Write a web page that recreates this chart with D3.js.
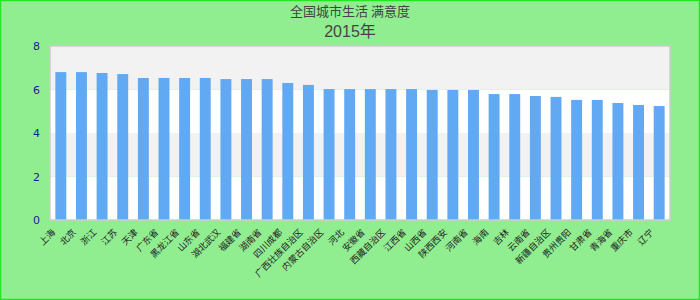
<!DOCTYPE html>
<html>
<head>
<meta charset="utf-8">
<script src="https://cdn.jsdelivr.net/npm/d3@7"></script>
<style>
  body { margin: 0; background: #fff; }
  svg { display: block; }
</style>
</head>
<body>
<div id="chart"></div>
<script>
var titleText = '全国城市生活 满意度';
var subTitle = '2015年';

var names = ['上海','北京','浙江','江苏','天津','广东省','黑龙江省','山东省','湖北武汉','福建省',
  '湖南省','四川成都','广西壮族自治区','内蒙古自治区','河北','安徽省','西藏自治区','江西省','山西省','陕西西安',
  '河南省','海南','吉林','云南省','新疆自治区','贵州贵阳','甘肃省','青海省','重庆市','辽宁'];

var values = [6.80, 6.80, 6.76, 6.71, 6.53, 6.53, 6.53, 6.53, 6.48, 6.48,
  6.48, 6.30, 6.21, 6.02, 6.02, 6.02, 6.02, 6.02, 5.98, 5.98,
  5.98, 5.79, 5.79, 5.70, 5.66, 5.52, 5.52, 5.38, 5.29, 5.24];

var yTicks = [0, 2, 4, 6, 8];

var W = 700, H = 300;
var margin = {top: 46, right: 30, bottom: 80, left: 50};
var width = W - margin.left - margin.right,
    height = H - margin.top - margin.bottom;

var svg = d3.select('#chart').append('svg')
    .attr('width', W)
    .attr('height', H);

// outer frame
svg.append('rect')
    .attr('x', 0.5).attr('y', 0.5)
    .attr('width', W - 1).attr('height', H - 1)
    .style('fill', '#90ee90')
    .style('stroke', '#22e622')
    .style('stroke-width', 1.5);

svg.append('text')
    .attr('x', W / 2).attr('y', 16)
    .attr('text-anchor', 'middle')
    .style('font-family', '"Noto Sans CJK SC", "Liberation Sans", sans-serif')
    .style('font-size', '13px')
    .style('fill', '#444')
    .text(titleText);

svg.append('text')
    .attr('x', W / 2).attr('y', 37)
    .attr('text-anchor', 'middle')
    .style('font-family', '"Liberation Sans", "Noto Sans CJK SC", sans-serif')
    .style('font-size', '16px')
    .style('fill', '#444')
    .text(subTitle);

var yScale = d3.scaleLinear()
    .domain([0, 8])
    .range([height, 0]);

var xScale = d3.scaleBand()
    .domain(d3.range(values.length))
    .range([0, width])
    .paddingInner(0.47)
    .paddingOuter(0.26);

var g = svg.append('g')
    .attr('transform', 'translate(' + margin.left + ',' + margin.top + ')');

// alternating bands
g.selectAll('rect.band').data(d3.pairs(yTicks))
    .enter().append('rect')
    .attr('class', 'band')
    .attr('x', 0)
    .attr('width', width)
    .attr('y', function(d) { return yScale(d[1]); })
    .attr('height', function(d) { return yScale(d[0]) - yScale(d[1]); })
    .style('fill', function(d, i) { return i % 2 ? '#f2f2f2' : '#ffffff'; });

g.selectAll('rect.bar').data(values)
    .enter().append('rect')
    .attr('class', 'bar')
    .attr('x', function(d, i) { return xScale(i); })
    .attr('width', xScale.bandwidth())
    .attr('y', function(d) { return yScale(d); })
    .attr('height', function(d) { return height - yScale(d); })
    .style('fill', '#62a9f3');

// plot border
g.append('rect')
    .attr('x', 0).attr('y', 0)
    .attr('width', width).attr('height', height)
    .style('fill', 'none')
    .style('stroke', '#cccccc')
    .style('stroke-width', 1.5);

var vAxis = d3.axisLeft(yScale)
    .tickValues(yTicks)
    .tickSize(0)
    .tickPadding(10);

var vGuide = g.append('g').call(vAxis);
vGuide.select('.domain').remove();
vGuide.selectAll('text')
    .style('font-family', '"DejaVu Sans", sans-serif')
    .style('font-size', '11px')
    .style('fill', '#1a1a96');

var hAxis = d3.axisBottom(xScale)
    .tickSize(0)
    .tickFormat(function(i) { return names[i]; });

var hGuide = g.append('g')
    .attr('transform', 'translate(0,' + height + ')')
    .call(hAxis);
hGuide.select('.domain').remove();
hGuide.selectAll('text')
    .attr('y', 0)
    .attr('dy', 0)
    .attr('transform', 'translate(-5,13) rotate(-45)')
    .style('text-anchor', 'end')
    .style('font-family', '"Noto Sans CJK SC", sans-serif')
    .style('font-size', '9px')
    .style('fill', '#222');
</script>
</body>
</html>
